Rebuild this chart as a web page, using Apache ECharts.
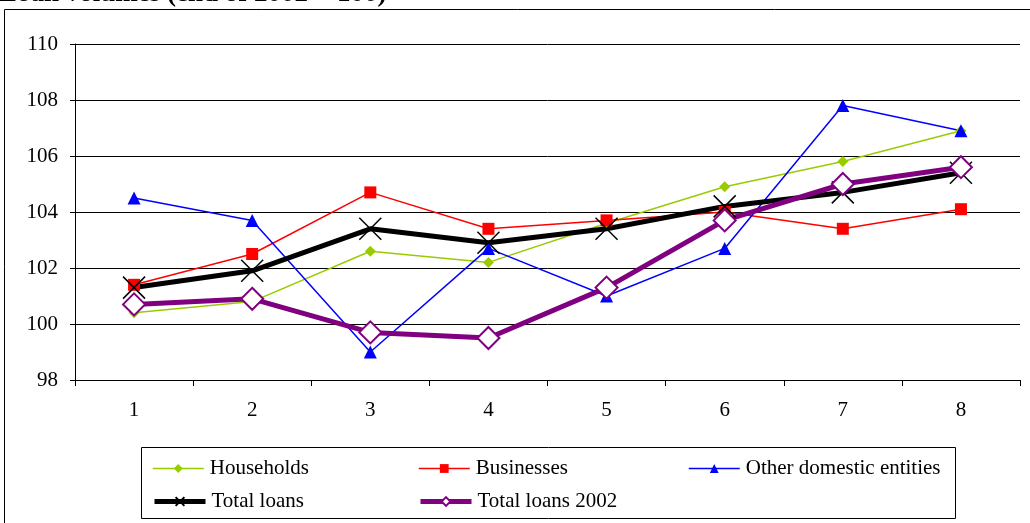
<!DOCTYPE html>
<html>
<head>
<meta charset="utf-8">
<script src="https://cdn.jsdelivr.net/npm/echarts@6/dist/echarts.min.js"></script>
<style>
  html, body { margin: 0; padding: 0; background: #fff; }
  #chart { width: 1030px; height: 523px; }
</style>
</head>
<body>
<div id="chart"></div>
<script>
const categorias = ['1', '2', '3', '4', '5', '6', '7', '8'];
const households = [100.4, 100.8, 102.6, 102.2, 103.6, 104.9, 105.8, 106.9];
const businesses = [101.4, 102.5, 104.7, 103.4, 103.7, 104.0, 103.4, 104.1];
const outros = [104.5, 103.7, 99.0, 102.7, 101.0, 102.7, 107.8, 106.9];
const totalLoans = [101.3, 101.9, 103.4, 102.9, 103.4, 104.2, 104.7, 105.4];
const total2002 = [100.7, 100.9, 99.7, 99.5, 101.3, 103.7, 105.0, 105.6];

const fonte = '"Liberation Serif", "Times New Roman", serif';
const simboloX = 'path://M0,0L10,10M10,0L0,10';

const chart = echarts.init(document.getElementById('chart'));

// uma legenda por item, para alinhar as colunas como no original
const legenda = (nome, left, top, largura) => ({
  data: [nome],
  left: left,
  top: top,
  itemWidth: 51,
  itemHeight: 11,
  itemGap: 0,
  lineStyle: { width: largura },
  textStyle: { fontFamily: fonte, fontSize: 21, color: '#000', padding: [0, 0, 0, 1] },
  padding: 0
});

chart.setOption({
  animation: false,
  title: {
    text: 'Loan volumes (end of 2002 = 100)',
    left: -1,
    top: -19,
    padding: 0,
    textStyle: { fontFamily: fonte, fontSize: 27, fontWeight: 'bold', color: '#000' }
  },
  graphic: [
    {
      type: 'rect',
      shape: { x: 4.5, y: 9.5, width: 1100, height: 600 },
      style: { fill: 'none', stroke: '#000', lineWidth: 1 },
      silent: true
    },
    {
      type: 'rect',
      shape: { x: 141.5, y: 447.5, width: 814, height: 71 },
      style: { fill: 'none', stroke: '#000', lineWidth: 1 },
      silent: true
    }
  ],
  legend: [
    legenda('Households', 152, 458, 1.5),
    legenda('Businesses', 418, 458, 1.5),
    legenda('Other domestic entities', 688, 458, 1.5),
    legenda('Total loans', 152, 491, 5),
    legenda('Total loans 2002', 418, 491, 5)
  ],
  grid: { left: 75, right: 10, top: 44, bottom: 143 },
  xAxis: {
    type: 'category',
    data: categorias,
    boundaryGap: true,
    axisLine: { lineStyle: { color: '#000', width: 1 } },
    axisTick: { show: true, interval: 0, length: 6, lineStyle: { color: '#000' } },
    axisLabel: { margin: 20, fontFamily: fonte, fontSize: 21, color: '#000' },
    splitLine: { show: false }
  },
  yAxis: {
    type: 'value',
    min: 98,
    max: 110,
    interval: 2,
    axisLine: { show: true, lineStyle: { color: '#000', width: 1 } },
    axisTick: { show: true, length: 5, lineStyle: { color: '#000' } },
    axisLabel: { margin: 17, fontFamily: fonte, fontSize: 21, color: '#000' },
    splitLine: { show: true, lineStyle: { color: '#000', width: 1 } }
  },
  series: [
    {
      name: 'Households',
      type: 'line',
      data: households,
      symbol: 'diamond',
      symbolSize: 11,
      color: '#99CC00',
      lineStyle: { width: 1.5, color: '#99CC00' },
      itemStyle: { color: '#99CC00' }
    },
    {
      name: 'Businesses',
      type: 'line',
      data: businesses,
      symbol: 'rect',
      symbolSize: 12,
      color: '#FF0000',
      lineStyle: { width: 1.5, color: '#FF0000' },
      itemStyle: { color: '#FF0000' }
    },
    {
      name: 'Other domestic entities',
      type: 'line',
      data: outros,
      symbol: 'triangle',
      symbolSize: 13,
      color: '#0000FF',
      lineStyle: { width: 1.5, color: '#0000FF' },
      itemStyle: { color: '#0000FF' }
    },
    {
      name: 'Total loans',
      type: 'line',
      data: totalLoans,
      symbol: simboloX,
      symbolSize: 22,
      color: '#000',
      lineStyle: { width: 5, color: '#000' },
      itemStyle: { color: 'none', borderColor: '#000', borderWidth: 1.5 }
    },
    {
      name: 'Total loans 2002',
      type: 'line',
      data: total2002,
      symbol: 'emptyDiamond',
      symbolSize: 22,
      color: '#800080',
      lineStyle: { width: 5, color: '#800080' },
      itemStyle: { color: '#800080', borderColor: '#800080', borderWidth: 1.5 }
    }
  ]
});
</script>
</body>
</html>
